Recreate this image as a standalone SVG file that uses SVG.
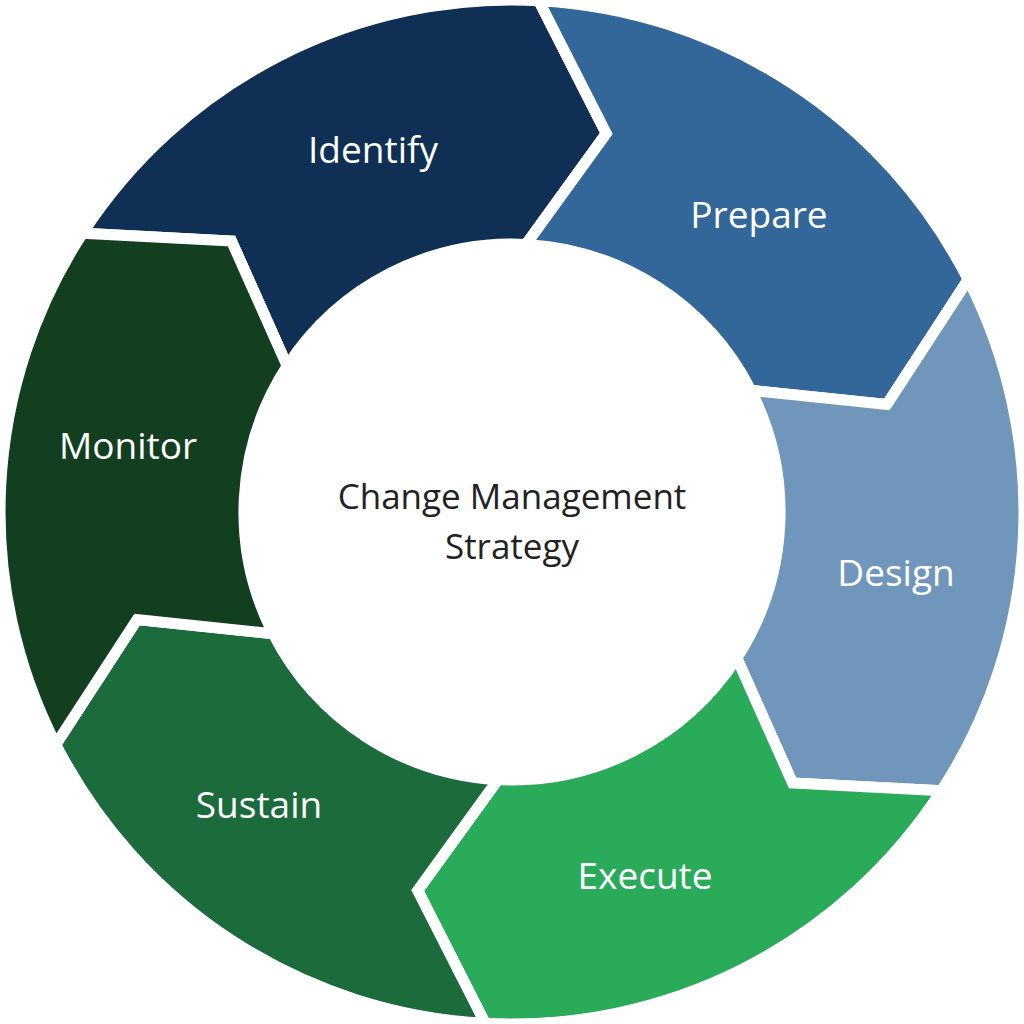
<svg xmlns="http://www.w3.org/2000/svg" width="1024" height="1024" viewBox="0 0 1024 1024">
<style>
.seg{stroke:#fff;stroke-width:11;stroke-linejoin:miter}
.lbl{font-family:"Open Sans","Noto Sans",sans-serif;font-size:37px;fill:#fff;text-anchor:middle}
.ctr{font-family:"Open Sans","Noto Sans",sans-serif;font-size:35px;fill:#222;text-anchor:middle}
</style>
<rect width="1024" height="1024" fill="#fff"/>
<g id="identify">
<path class="seg" fill="#0f3054" d="M82.6,233.2 L231.5,241.1 L287.2,366 A268,268 0 0 1 526,244.4 L606.3,133.6 L538.8,0.7 A512,512 0 0 0 82.6,233.2 Z"/>
<text class="lbl" x="373" y="163">Identify</text>
</g>
<g id="prepare">
<path class="seg" fill="#336699" d="M538.8,0.7 L606.3,133.6 L526,244.4 A268,268 0 0 1 750.8,390.3 L886.9,404.5 L968.2,279.6 A512,512 0 0 0 538.8,0.7 Z"/>
<text class="lbl" x="759" y="228">Prepare</text>
</g>
<g id="design">
<path class="seg" fill="#7096bb" d="M968.2,279.6 L886.9,404.5 L750.8,390.3 A268,268 0 0 1 736.8,658 L792.5,782.9 L941.4,790.8 A512,512 0 0 0 968.2,279.6 Z"/>
<text class="lbl" x="896" y="586">Design</text>
</g>
<g id="execute">
<path class="seg" fill="#29ab5a" d="M941.4,790.8 L792.5,782.9 L736.8,658 A268,268 0 0 1 498,779.6 L417.7,890.4 L485.2,1023.3 A512,512 0 0 0 941.4,790.8 Z"/>
<text class="lbl" x="645" y="889">Execute</text>
</g>
<g id="sustain">
<path class="seg" fill="#1b6b3c" d="M485.2,1023.3 L417.7,890.4 L498,779.6 A268,268 0 0 1 273.2,633.7 L137.1,619.5 L55.8,744.4 A512,512 0 0 0 485.2,1023.3 Z"/>
<text class="lbl" x="259" y="818">Sustain</text>
</g>
<g id="monitor">
<path class="seg" fill="#133f21" d="M55.8,744.4 L137.1,619.5 L273.2,633.7 A268,268 0 0 1 287.2,366 L231.5,241.1 L82.6,233.2 A512,512 0 0 0 55.8,744.4 Z"/>
<text class="lbl" x="128" y="459">Monitor</text>
</g>
<g id="center">
<text class="ctr" x="512" y="509">Change Management</text>
<text class="ctr" x="512" y="559">Strategy</text>
</g>
<g id="connectors"/>
</svg>
